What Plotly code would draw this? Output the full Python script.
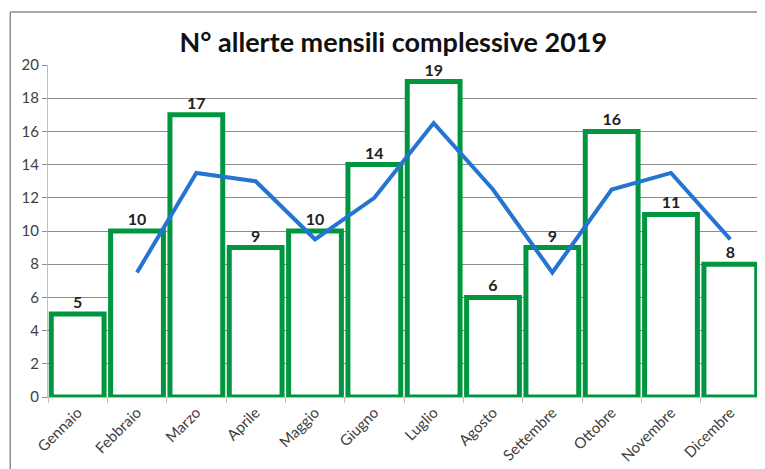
import plotly.graph_objects as go

mesi = ["Gennaio", "Febbraio", "Marzo", "Aprile", "Maggio", "Giugno",
        "Luglio", "Agosto", "Settembre", "Ottobre", "Novembre", "Dicembre"]
allerte = [5, 10, 17, 9, 10, 14, 19, 6, 9, 16, 11, 8]
# media mobile a 2 periodi
media_mesi = mesi[1:]
media_valori = [7.5, 13.5, 13, 9.5, 12, 16.5, 12.5, 7.5, 12.5, 13.5, 9.5]

FONT = "Lato, Open Sans, sans-serif"

fig = go.Figure()
fig.add_bar(
    x=mesi, y=allerte,
    marker={"color": "white", "line": {"color": "#00963F", "width": 5}},
    text=allerte, textposition="outside", cliponaxis=False,
    textfont={"size": 16, "color": "#222222", "family": FONT, "weight": "bold"},
    showlegend=False,
)
fig.add_scatter(
    x=media_mesi, y=media_valori, mode="lines",
    line={"color": "#2474D2", "width": 4},
    showlegend=False,
)

# la pagina ha 8px di margine sul body: la figura è spostata di conseguenza
frame = {"color": "#8c8c8c", "width": 1.5}
fig.update_layout(
    width=757, height=461,
    paper_bgcolor="white", plot_bgcolor="white",
    margin={"l": 40, "r": 5, "t": 57, "b": 72},
    bargap=0.11,
    font={"family": FONT, "color": "#404040", "size": 15},
    title={"text": "<b>N° allerte mensili complessive 2019</b>",
           "x": 0.509, "xanchor": "center", "y": 0.924, "yanchor": "middle",
           "font": {"size": 27, "color": "#111111", "family": FONT}},
    shapes=[
        {"type": "line", "xref": "paper", "yref": "paper",
         "x0": -0.053, "x1": -0.053, "y0": -0.3, "y1": 1.16, "line": frame, "layer": "below"},
        {"type": "line", "xref": "paper", "yref": "paper",
         "x0": -0.053, "x1": 1.05, "y0": 1.16, "y1": 1.16, "line": frame, "layer": "below"},
    ],
)
fig.update_xaxes(
    automargin=False,
    showline=True, linecolor="#bfbfbf", linewidth=1,
    ticks="outside", tickson="boundaries", ticklen=5, tickcolor="#bfbfbf",
    tickangle=-45, tickfont={"size": 15, "color": "#404040"},
    showgrid=False,
)
fig.update_yaxes(
    automargin=False,
    range=[0, 20], dtick=2, showgrid=True, gridcolor="#8c8c8c", gridwidth=1,
    showline=True, linecolor="#bfbfbf", ticks="outside", ticklen=5, tickcolor="#8c8c8c",
    tickfont={"size": 15, "color": "#404040"}, zeroline=False,
)

fig.write_html("out.html")
